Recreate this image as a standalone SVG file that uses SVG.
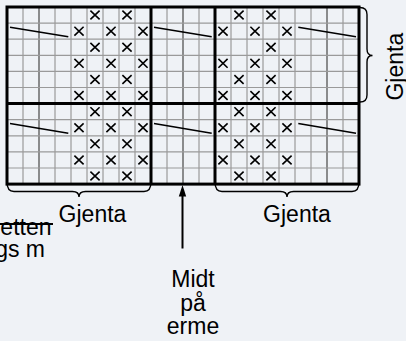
<svg xmlns="http://www.w3.org/2000/svg" xmlns:xlink="http://www.w3.org/1999/xlink" width="406" height="341" viewBox="0 0 406 341">
<style>
.thin{stroke:#9a9a9a;stroke-width:1.2;fill:none}
.dark{stroke:#6a6a6a;stroke-width:1.5;fill:none}
.thick{stroke:#000;stroke-width:3;fill:none}
.mk{stroke:#000;stroke-width:1.6;fill:none}
.diag{stroke:#000;stroke-width:1.6;fill:none}
.brace{stroke:#000;stroke-width:1.4;fill:none}
.lbl{font-family:"Liberation Sans",Arial,Helvetica,sans-serif;font-size:23px;fill:#000}
.conn{stroke:#000;stroke-width:2;fill:none}
</style>
<defs>
<path id="xm" class="mk" d="M-4.6,-4.4 L4.6,4.4 M4.6,-4.4 L-4.6,4.4"/>
</defs>
<rect x="0" y="0" width="406" height="341" fill="#eff2f6"/>
<g id="chart">
<g id="grid-thin">
<path class="thin" d="M23,7V184.1M55,7V184.1M71,7V184.1M87,7V184.1M103,7V184.1M119,7V184.1M135,7V184.1M167,7V184.1M199,7V184.1M231,7V184.1M247,7V184.1M263,7V184.1M279,7V184.1M295,7V184.1M311,7V184.1M343,7V184.1"/>
<path class="dark" d="M39,7V184.1M183,7V184.1M327,7V184.1"/>
<path class="thin" d="M7,23.1H359M7,39.2H359M7,55.3H359M7,71.4H359M7,87.5H359M7,119.7H359M7,135.8H359M7,151.9H359M7,168H359"/>
</g>
<g id="marks">
<use xlink:href="#xm" x="95" y="15.05"/><use xlink:href="#xm" x="127" y="15.05"/>
<use xlink:href="#xm" x="79" y="31.15"/><use xlink:href="#xm" x="111" y="31.15"/><use xlink:href="#xm" x="143" y="31.15"/>
<use xlink:href="#xm" x="95" y="47.25"/><use xlink:href="#xm" x="127" y="47.25"/>
<use xlink:href="#xm" x="79" y="63.35"/><use xlink:href="#xm" x="111" y="63.35"/><use xlink:href="#xm" x="143" y="63.35"/>
<use xlink:href="#xm" x="95" y="79.45"/><use xlink:href="#xm" x="127" y="79.45"/>
<use xlink:href="#xm" x="79" y="95.55"/><use xlink:href="#xm" x="111" y="95.55"/><use xlink:href="#xm" x="143" y="95.55"/>
<use xlink:href="#xm" x="95" y="111.65"/><use xlink:href="#xm" x="127" y="111.65"/>
<use xlink:href="#xm" x="79" y="127.75"/><use xlink:href="#xm" x="111" y="127.75"/><use xlink:href="#xm" x="143" y="127.75"/>
<use xlink:href="#xm" x="95" y="143.85"/><use xlink:href="#xm" x="127" y="143.85"/>
<use xlink:href="#xm" x="79" y="159.95"/><use xlink:href="#xm" x="111" y="159.95"/><use xlink:href="#xm" x="143" y="159.95"/>
<use xlink:href="#xm" x="95" y="176.05"/><use xlink:href="#xm" x="127" y="176.05"/>
<use xlink:href="#xm" x="239" y="15.05"/><use xlink:href="#xm" x="271" y="15.05"/>
<use xlink:href="#xm" x="223" y="31.15"/><use xlink:href="#xm" x="255" y="31.15"/><use xlink:href="#xm" x="287" y="31.15"/>
<use xlink:href="#xm" x="271" y="47.25"/>
<use xlink:href="#xm" x="223" y="63.35"/><use xlink:href="#xm" x="255" y="63.35"/><use xlink:href="#xm" x="287" y="63.35"/>
<use xlink:href="#xm" x="239" y="79.45"/><use xlink:href="#xm" x="271" y="79.45"/>
<use xlink:href="#xm" x="223" y="95.55"/><use xlink:href="#xm" x="255" y="95.55"/><use xlink:href="#xm" x="287" y="95.55"/>
<use xlink:href="#xm" x="239" y="111.65"/><use xlink:href="#xm" x="271" y="111.65"/>
<use xlink:href="#xm" x="223" y="127.75"/><use xlink:href="#xm" x="255" y="127.75"/><use xlink:href="#xm" x="287" y="127.75"/>
<use xlink:href="#xm" x="239" y="143.85"/><use xlink:href="#xm" x="271" y="143.85"/>
<use xlink:href="#xm" x="223" y="159.95"/><use xlink:href="#xm" x="255" y="159.95"/><use xlink:href="#xm" x="287" y="159.95"/>
<use xlink:href="#xm" x="239" y="176.05"/><use xlink:href="#xm" x="271" y="176.05"/>
</g>
<g id="diagonals">
<path class="diag" d="M10,27.3L68.3,36.7M154,27.3L211.7,36.7M298.3,27.3L356,36.7"/>
<path class="diag" d="M10,123.5L68.3,133.3M154,123.5L211.7,133.3M298.3,123.5L356,133.3"/>
</g>
<g id="grid-thick">
<rect class="thick" x="7" y="7" width="352" height="177.1"/>
<path class="thick" d="M151,7V184.1M215,7V184.1M7,103.6H359"/>
</g>
</g>
<g id="brace-right">
<path class="brace" d="M360,7.5Q367,7.5 367,14.5V49Q367,55.5 372.5,55.5Q367,55.5 367,62V95Q367,102 360,102"/>
<text class="lbl" text-anchor="middle" transform="translate(403,66.7) rotate(-90)">Gjenta</text>
</g>
<g id="brace-left">
<path class="brace" d="M7,182Q7,191.5 14,191.5H72.5Q79,191.5 79,197Q79,191.5 85.5,191.5H144Q151,191.5 151,182"/>
<text class="lbl" x="92.5" y="221.5" text-anchor="middle">Gjenta</text>
</g>
<g id="brace-bottom-right">
<path class="brace" d="M215,182Q215,191.5 222,191.5H280.5Q287,191.5 287,197Q287,191.5 293.5,191.5H352Q359,191.5 359,182"/>
<text class="lbl" x="297" y="221.5" text-anchor="middle">Gjenta</text>
</g>
<g id="side-note">
<text class="lbl" x="51.5" y="235" text-anchor="end">etten</text>
<text class="lbl" x="45" y="256.5" text-anchor="end">gs m</text>
<path class="conn" d="M0,224H53" stroke-width="1.6"/>
</g>
<g id="connectors">
<path class="conn" d="M182.5,248.5V194"/>
<polygon points="182.5,185 178.8,196.5 186.2,196.5" fill="#000"/>
</g>
<g id="middle-label">
<text class="lbl" x="193" y="286.5" text-anchor="middle">Midt</text>
<text class="lbl" x="193" y="310.5" text-anchor="middle">på</text>
<text class="lbl" x="193" y="334" text-anchor="middle">erme</text>
</g>
</svg>
